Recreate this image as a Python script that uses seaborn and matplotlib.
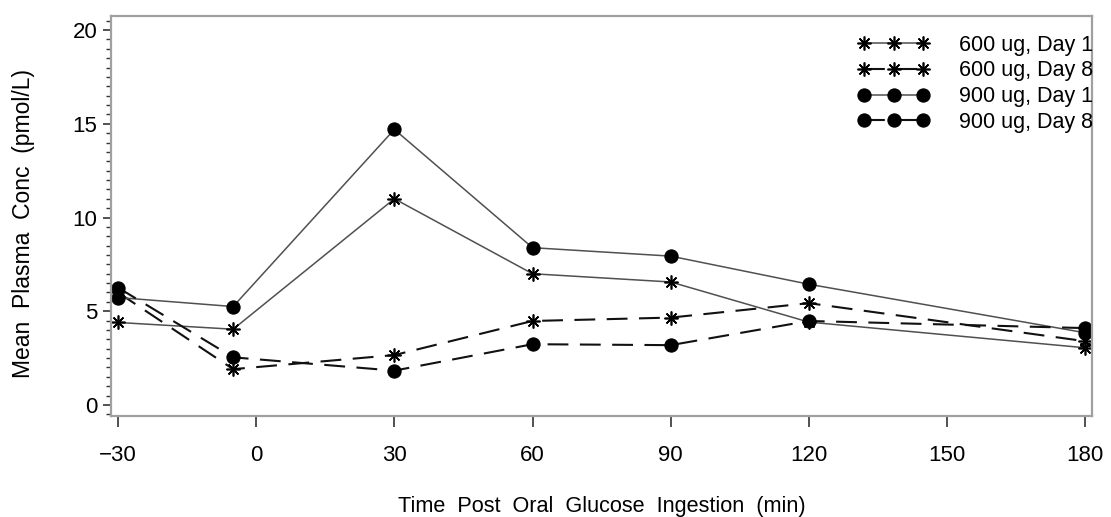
import numpy as np
import pandas as pd
import matplotlib
matplotlib.use("Agg")
import matplotlib.pyplot as plt
import seaborn as sns
from matplotlib.ticker import MultipleLocator

sns.set_theme(style="white")
plt.rcParams['font.family'] = ['Liberation Sans', 'DejaVu Sans']
plt.rcParams['text.color'] = 'black'
plt.rcParams['axes.labelcolor'] = 'black'
plt.rcParams['xtick.color'] = 'black'
plt.rcParams['ytick.color'] = 'black'

time_min = [-30, -5, 30, 60, 90, 120, 180]
conc_600_day1 = [4.40, 4.04, 11.0, 7.0, 6.56, 4.42, 3.05]
conc_600_day8 = [6.00, 1.91, 2.66, 4.48, 4.66, 5.43, 3.40]
conc_900_day1 = [5.73, 5.25, 14.70, 8.39, 7.94, 6.44, 3.85]
conc_900_day8 = [6.26, 2.54, 1.83, 3.24, 3.19, 4.48, 4.10]

series_labels = ["600 ug, Day 1", "600 ug, Day 8", "900 ug, Day 1", "900 ug, Day 8"]
series_values = [conc_600_day1, conc_600_day8, conc_900_day1, conc_900_day8]

x_ticks = [-30, 0, 30, 60, 90, 120, 150, 180]
y_ticks = [0, 5, 10, 15, 20]

fig = plt.figure(figsize=(11.11, 5.17), dpi=100)
ax = fig.add_axes([0.100, 0.195, 0.883, 0.774])

star = (8, 2, 0)
styles = {
    "600 ug, Day 1": dict(marker=star, ls='-', color='#505050', lw=1.1, ms=10, mew=1.2),
    "600 ug, Day 8": dict(marker=star, ls=(0, (10, 5.5)), color='#111111', lw=1.5, ms=10, mew=1.2),
    "900 ug, Day 1": dict(marker='o', ls='-', color='#505050', lw=1.1, ms=9.5, mew=0.8),
    "900 ug, Day 8": dict(marker='o', ls=(0, (10, 5.5)), color='#111111', lw=1.5, ms=9.5, mew=0.8),
}

for lab, vals in zip(series_labels, series_values):
    df = pd.DataFrame({"time": time_min, "conc": vals})
    st = styles[lab]
    sns.lineplot(data=df, x="time", y="conc", ax=ax, color=st['color'],
                 linestyle=st['ls'], linewidth=st['lw'], marker=st['marker'],
                 markersize=st['ms'], markeredgewidth=st['mew'],
                 markerfacecolor='black', markeredgecolor='black', label=lab)

ax.set_xlim(-31.5, 181.5)
ax.set_ylim(-0.6, 20.75)
ax.set_xticks(x_ticks)
ax.set_xticklabels(["\u221230" if t == -30 else str(t) for t in x_ticks])
ax.set_yticks(y_ticks)
ax.yaxis.set_minor_locator(MultipleLocator(0.5))

for s in ax.spines.values():
    s.set_color('#a0a0a0')
    s.set_linewidth(1.6)

ax.tick_params(axis='x', which='major', direction='out', length=8, width=1.2,
               color='#333333', labelsize=16, pad=13, bottom=True)
ax.tick_params(axis='y', which='major', direction='out', length=6, width=1.2,
               color='#333333', labelsize=16, pad=4, left=True)
ax.tick_params(axis='y', which='minor', direction='out', length=3.5, width=1.0,
               color='#333333', left=True)

ax.set_xlabel("Time  Post  Oral  Glucose  Ingestion  (min)", fontsize=15.6)
ax.set_ylabel("Mean  Plasma  Conc  (pmol/L)", fontsize=16.5)
ax.xaxis.set_label_coords(0.5, -0.2)
ax.yaxis.set_label_coords(-0.078, 0.482)

handles, labels = ax.get_legend_handles_labels()
leg = ax.legend(handles, labels, loc='upper right', bbox_to_anchor=(1.010, 0.975),
                frameon=False, fontsize=15.5, numpoints=3, handlelength=3.3,
                labelspacing=0.22, handletextpad=1.4, borderaxespad=0.0)

fig.savefig("out.png", dpi=100)
